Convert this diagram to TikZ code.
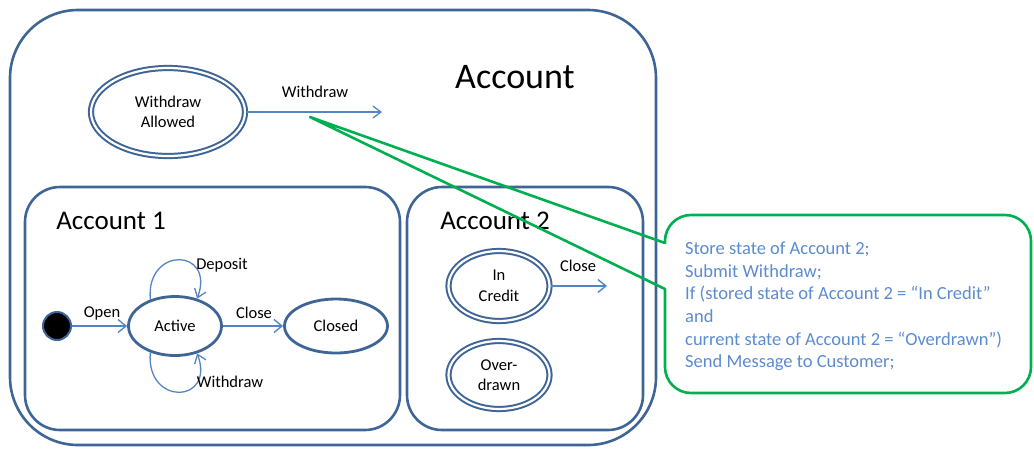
\documentclass[tikz,border=0pt]{standalone}
\usepackage{fontspec}
\setmainfont{Carlito}
\usetikzlibrary{arrows.meta,shapes.geometric}
\definecolor{stateblue}{HTML}{3F6596}
\definecolor{flowblue}{HTML}{5584C4}
\definecolor{notegreen}{HTML}{00B050}
\definecolor{notetext}{HTML}{5B8BD0}

\begin{document}
\begin{tikzpicture}[x=1pt,y=1pt,
  box/.style={draw=stateblue, line width=2.6pt, rounded corners=#1},
  box/.default=35pt,
  state/.style={ellipse, draw=stateblue, line width=2.8pt, inner sep=0pt,
    align=center, font=\fontsize{16.5}{20.5}\selectfont},
  dstate/.style={ellipse, draw=stateblue, double=white, double distance=2.2pt,
    line width=2pt, inner sep=0pt, align=center,
    font=\fontsize{16.5}{20.5}\selectfont},
  flow/.style={draw=flowblue, line width=2.4pt,
    -{Straight Barb[length=8pt,width=13pt,line width=1.4pt]}},
  thinflow/.style={draw=flowblue, line width=1.3pt,
    -{Straight Barb[length=8pt,width=12pt,line width=1.3pt]}},
  lbl/.style={inner sep=0pt, font=\fontsize{16.5}{20}\selectfont},
  title/.style={inner sep=0pt, font=\fontsize{27}{30}\selectfont},
  callout/.style={draw=notegreen, line width=2.6pt, line join=round},
  notetxt/.style={inner sep=0pt, align=left, text=notetext,
    font=\fontsize{18.5}{22.7}\selectfont}
]
\useasboundingbox (0,0) rectangle (1034,-448);

% composite state and its two regions
\draw[box=68pt] (10,-10) rectangle (656,-445);
\draw[box] (25,-187) rectangle (400,-430);
\draw[box] (407,-187) rectangle (643,-430);

\node[inner sep=0pt, font=\fontsize{36}{40}\selectfont] (tAcc) at (515,-77) {Account};
\node[title] (tAcc1) at (111,-221) {Account 1};
\node[title] (tAcc2) at (495,-221) {Account 2};

% top-level state
\node[dstate, minimum width=154pt, minimum height=88pt] (wa) at (168,-112) {Withdraw\\Allowed};
\coordinate (wdend) at (382,-112);
\draw[thinflow] (wa) -- (wdend);
\node[lbl] (lWd) at (315,-92) {Withdraw};

% Account 1 region
\node[circle, fill=black, draw=stateblue, line width=2pt, minimum size=28pt, inner sep=0pt] (init) at (57,-326) {};
\node[state, minimum width=93pt, minimum height=59pt] (act) at (175,-326) {Active};
\node[state, minimum width=103pt, minimum height=54pt] (closed) at (336,-326) {Closed};
\draw[flow] (init) -- (act);
\draw[flow] (act) -- (closed);
\draw[thinflow] (act.133) to[out=95,in=70,distance=54pt] (act.51);
\draw[thinflow] (act.227) to[out=-95,in=-70,distance=54pt] (act.-51);
\node[lbl] (lOpen) at (102,-313) {Open};
\node[lbl] (lClose) at (254,-313) {Close};
\node[lbl] (lDep) at (222,-265) {Deposit};
\node[lbl] (lWd2) at (230,-382) {Withdraw};

% Account 2 region
\node[dstate, minimum width=101pt, minimum height=70pt] (ic) at (499,-286) {In\\Credit};
\node[dstate, minimum width=101pt, minimum height=68pt] (od) at (499,-375) {Over-\\drawn};
\coordinate (icend) at (607,-286);
\draw[flow] (ic) -- (icend);
\node[lbl] (lClose2) at (578,-266) {Close};

% note attached to the Withdraw transition
\coordinate (tip) at (310,-117);
\draw[callout] (tip) -- (665,-243) -- (665,-241)
  arc[start angle=180, end angle=90, radius=26pt] -- (1005,-215)
  arc[start angle=90, end angle=0, radius=26pt] -- (1031,-367)
  arc[start angle=0, end angle=-90, radius=26pt] -- (691,-393)
  arc[start angle=-90, end angle=-180, radius=26pt] -- (665,-289) -- cycle;
\node[notetxt, anchor=north west] (note) at (685,-241.5) {Store state of Account 2;\\
Submit Withdraw;\\
If (stored state of Account 2 = “In Credit”\\
and\\
current state of Account 2 = “Overdrawn”)\\
Send Message to Customer;};
\end{tikzpicture}
\end{document}
